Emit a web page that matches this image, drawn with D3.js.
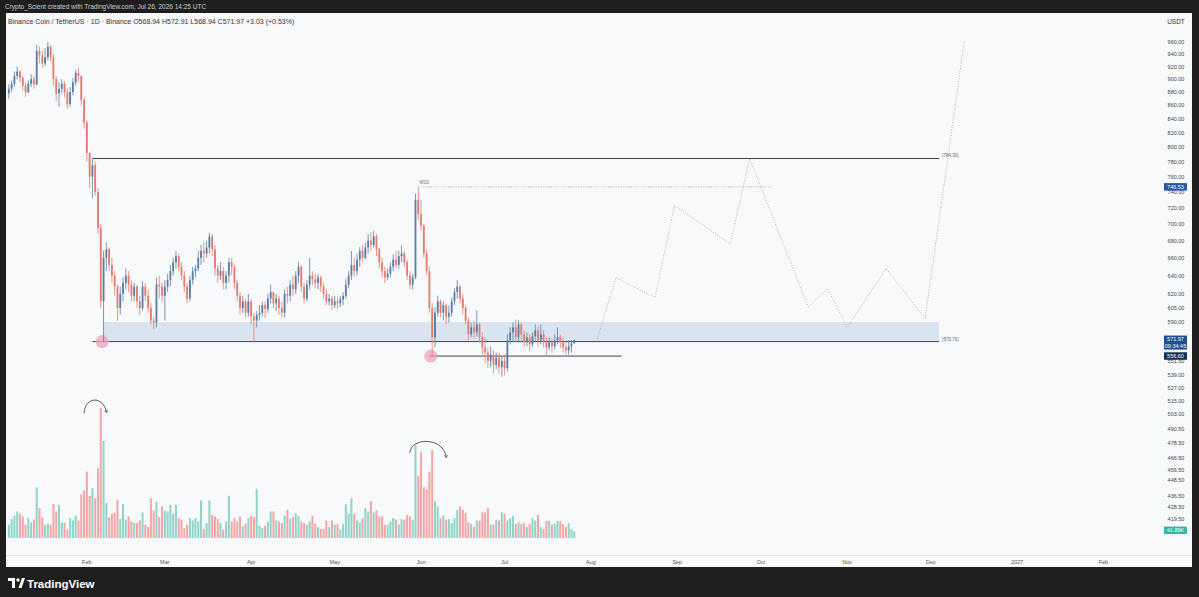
<!DOCTYPE html>
<html>
<head>
<meta charset="utf-8">
<script src="https://cdn.jsdelivr.net/npm/d3@7"></script>
<style>
  body { margin: 0; background: #1e1e1e; }
  svg { display: block; font-family: "Liberation Sans", Arial, sans-serif; }
</style>
</head>
<body>
<svg id="chart" width="1199" height="597"></svg>
<script>
// BNB/USDT daily, Jan 4 2026 -> Jul 26 2026
const firstDay = "2026-01-04";
const firstOpen = 878;
const closes = [885, 893, 905, 912, 902, 890, 880, 893, 900, 892,
  945, 938, 925, 935, 952, 935, 900, 878, 885, 893,
  880, 862, 880, 895, 910, 905, 868, 835, 792, 760,
  775, 740, 695, 612, 660, 670, 652, 640, 628, 605,
  620, 632, 640, 630, 618, 628, 612, 605, 628, 618,
  605, 592, 590, 630, 628, 618, 628, 635, 645, 655,
  662, 650, 640, 628, 615, 635, 645, 648, 660, 668,
  665, 672, 685, 670, 648, 640, 645, 632, 640, 655,
  650, 632, 618, 605, 612, 600, 612, 596, 592, 598,
  600, 608, 604, 615, 622, 610, 615, 605, 600, 620,
  618, 630, 625, 640, 650, 628, 615, 630, 640, 636,
  632, 638, 628, 620, 612, 615, 608, 612, 610, 614,
  618, 630, 640, 652, 645, 658, 668, 660, 672, 680,
  675, 685, 670, 655, 645, 638, 642, 650, 658, 652,
  662, 665, 655, 640, 630, 638, 730, 712, 698, 665,
  645, 605, 575, 600, 612, 600, 608, 596, 600, 612,
  622, 628, 615, 605, 592, 578, 585, 580, 588, 575,
  565, 560, 552, 558, 548, 555, 546, 552, 545, 572,
  580, 585, 575, 588, 578, 570, 575, 568, 576, 582,
  572, 578, 570, 565, 570, 566, 572, 575, 570, 565,
  562, 566, 568.94, 571.97];
const highs = [892, 898, 912, 920, 914, 905, 895, 898, 908, 905,
  955, 953, 945, 950, 960, 955, 940, 905, 895, 900,
  897, 885, 888, 902, 915, 918, 906, 872, 838, 790,
  784.3, 780, 745, 700, 668, 678, 672, 660, 645, 630,
  628, 638, 648, 645, 635, 632, 630, 618, 634, 632,
  625, 610, 596, 638, 640, 632, 635, 642, 652, 660,
  668, 665, 655, 645, 632, 640, 650, 652, 668, 675,
  678, 680, 689, 688, 675, 652, 655, 650, 645, 660,
  660, 652, 635, 622, 618, 615, 620, 615, 600, 602,
  608, 612, 612, 620, 630, 622, 620, 618, 612, 625,
  628, 635, 640, 645, 655, 652, 632, 635, 660, 645,
  642, 642, 640, 632, 625, 620, 618, 618, 616, 618,
  622, 636, 645, 668, 660, 665, 672, 675, 678, 688,
  690, 692, 688, 672, 660, 650, 648, 655, 664, 668,
  668, 675, 668, 658, 645, 642, 738, 746.53, 730, 700,
  670, 650, 610, 606, 618, 614, 612, 610, 608, 616,
  626, 635, 630, 620, 608, 595, 590, 592, 602, 590,
  580, 575, 565, 566, 562, 560, 560, 556, 558, 578,
  585, 590, 593, 592, 590, 582, 580, 578, 580, 588,
  586, 588, 582, 575, 575, 574, 578, 585, 578, 575,
  570, 572, 572, 572.91];
const lows = [870, 880, 888, 900, 895, 882, 873, 878, 888, 885,
  890, 925, 918, 920, 930, 928, 890, 866, 858, 878,
  872, 855, 858, 875, 890, 895, 860, 826, 780, 745,
  732, 735, 688, 605, 570.76, 645, 645, 632, 618, 592,
  598, 612, 625, 622, 612, 612, 605, 598, 602, 612,
  600, 588, 583, 585, 615, 612, 592, 622, 628, 640,
  648, 645, 635, 622, 610, 612, 630, 638, 645, 652,
  655, 660, 665, 662, 640, 632, 635, 625, 625, 632,
  640, 625, 612, 598, 600, 595, 596, 588, 570.76, 585,
  592, 596, 595, 600, 610, 605, 602, 598, 595, 595,
  610, 612, 618, 620, 632, 622, 610, 612, 625, 630,
  626, 625, 622, 615, 608, 608, 603, 605, 604, 606,
  608, 615, 626, 635, 638, 640, 650, 655, 658, 665,
  668, 672, 662, 648, 638, 632, 635, 638, 645, 648,
  648, 655, 650, 635, 625, 625, 636, 705, 692, 660,
  640, 600, 556.6, 565, 596, 595, 592, 588, 590, 596,
  608, 615, 610, 598, 588, 572, 575, 574, 576, 570,
  558, 550, 545, 546, 540, 544, 540, 537, 538, 542,
  568, 572, 570, 570, 572, 565, 566, 562, 565, 570,
  566, 568, 565, 557, 562, 560, 563, 568, 564, 560,
  556, 558, 560, 568.94];
// volume, thousands
const volumes = [84, 120, 141, 168, 153, 137, 84, 126, 99, 116,
  321, 189, 132, 84, 90, 84, 216, 168, 210, 99,
  99, 53, 126, 111, 141, 111, 277, 300, 420, 267,
  315, 252, 441, 825, 615, 221, 132, 153, 158, 242,
  120, 216, 116, 137, 105, 95, 95, 111, 162, 84,
  69, 252, 174, 229, 132, 200, 174, 168, 210, 153,
  210, 126, 116, 63, 84, 126, 111, 126, 105, 237,
  57, 95, 237, 147, 137, 120, 95, 53, 105, 267,
  105, 126, 105, 137, 74, 90, 126, 141, 132, 309,
  78, 63, 78, 105, 168, 168, 111, 105, 95, 141,
  179, 120, 132, 158, 137, 105, 95, 84, 105, 141,
  90, 69, 57, 57, 109, 69, 109, 84, 90, 53,
  90, 214, 153, 252, 153, 111, 99, 126, 189, 168,
  235, 162, 174, 137, 137, 84, 84, 105, 126,
  116, 84, 120, 116, 147, 137, 116, 588, 393, 546,
  321, 309, 420, 557, 231, 200, 126, 141, 116, 120,
  95, 126, 179, 200, 179, 158, 99, 90, 69, 111,
  111, 162, 162, 189, 84, 84, 116, 111, 162, 153,
  111, 126, 141, 90, 99, 90, 95, 69, 90, 126,
  111, 147, 69, 57, 109, 109, 84, 90, 108, 108,
  89, 70, 95, 57, 41.89];

const priceTicks = [960, 940, 920, 900, 880, 860, 840, 820, 800, 780, 760, 740, 720, 700,
  680, 660, 640, 620, 605, 590, 551.5, 539, 527, 515, 503, 490.5, 478.5, 466.5, 456.5,
  448.5, 436.5, 428.5, 419.5];
const monthDates = ["2026-02-01", "2026-03-01", "2026-04-01", "2026-05-01", "2026-06-01", "2026-07-01",
  "2026-08-01", "2026-09-01", "2026-10-01", "2026-11-01", "2026-12-01", "2027-01-01", "2027-02-01"];
const monthLabels = ["Feb", "Mar", "Apr", "May", "Jun", "Jul", "Aug", "Sep", "Oct", "Nov", "Dec", "2027", "Feb"];

// projected path (dotted)
const projDates = ["2026-08-03", "2026-08-10", "2026-08-24", "2026-08-31", "2026-09-20", "2026-09-27",
  "2026-10-18", "2026-10-25", "2026-11-01", "2026-11-15", "2026-11-29", "2026-12-13"];
const projPrices = [570.76, 638, 616, 723, 676, 784.3, 606, 626, 585, 648, 594, 960];

// drawn levels
const boxTop = 784.30, zoneTop = 590.4, zoneBottom = 570.76, lowLine = 556.60, highLevel = 746.53;
const lastPrice = 571.97, lastVolume = 41.89;

const parse = d3.utcParse("%Y-%m-%d");
const svg = d3.select("#chart");
const W = 1199, H = 597;

const x = d3.scaleUtc()
  .domain([Date.UTC(2026, 0, 1), Date.UTC(2027, 1, 1)])
  .range([0.5, 1103.4]);
const y = d3.scaleLog().domain([960, 419.5]).range([42, 519]);
const yVol = d3.scaleLinear().domain([0, 830]).range([538, 407]);

const day0 = parse(firstDay);
const candles = closes.map((c, i) => ({
  date: d3.utcDay.offset(day0, i),
  o: i === 0 ? firstOpen : closes[i - 1],
  h: highs[i], l: lows[i], c: c, v: volumes[i]
}));

// frame
svg.append("rect").attr("width", W).attr("height", H).attr("fill", "#1e1e1e");
svg.append("rect").attr("x", 6).attr("y", 13).attr("width", 1186).attr("height", 554).attr("fill", "#f8f9fb");
svg.append("text").attr("x", 5).attr("y", 9).attr("font-size", 6.5).attr("fill", "#cfcfcf")
  .text("Crypto_Scient created with TradingView.com, Jul 26, 2026 14:25 UTC");
svg.append("text").attr("x", 8).attr("y", 23.5).attr("font-size", 7).attr("fill", "#333")
  .text("Binance Coin / TetherUS · 1D · Binance   O568.94  H572.91  L568.94  C571.97  +3.03 (+0.53%)");

// time axis
svg.append("line").attr("x1", 6).attr("x2", 1192).attr("y1", 555.5).attr("y2", 555.5).attr("stroke", "#e3e5ea");
svg.append("g").selectAll("text").data(monthDates).join("text")
  .attr("x", d => x(parse(d))).attr("y", 564).attr("text-anchor", "middle")
  .attr("font-size", 5.5).attr("fill", "#555")
  .text((d, i) => monthLabels[i]);

// zone + level lines
svg.append("rect")
  .attr("x", x(parse("2026-02-07"))).attr("y", y(zoneTop))
  .attr("width", x(parse("2026-12-04")) - x(parse("2026-02-07")))
  .attr("height", y(zoneBottom) - y(zoneTop))
  .attr("fill", "#d6e1ee").attr("opacity", 0.9);

const levels = [
  { p: boxTop, from: "2026-02-03", to: "2026-12-04", label: "(784.30)" },
  { p: zoneBottom, from: "2026-02-03", to: "2026-12-04", label: "(570.76)" },
  { p: lowLine, from: "2026-06-04", to: "2026-08-12", label: null }
];
levels.forEach(l => {
  svg.append("line")
    .attr("x1", x(parse(l.from))).attr("x2", x(parse(l.to)))
    .attr("y1", y(l.p)).attr("y2", y(l.p))
    .attr("stroke", "#40454d").attr("stroke-width", 1);
  if (l.label) svg.append("text").attr("x", x(parse(l.to)) + 3).attr("y", y(l.p) - 1)
    .attr("font-size", 4.5).attr("fill", "#666").text(l.label);
});

svg.append("line")
  .attr("x1", x(parse("2026-05-31"))).attr("x2", x(parse("2026-10-05")))
  .attr("y1", y(highLevel)).attr("y2", y(highLevel))
  .attr("stroke", "#9aa1ab").attr("stroke-dasharray", "1,1.5").attr("stroke-width", 0.8);
svg.append("text").attr("x", x(parse("2026-05-31")) + 1).attr("y", y(highLevel) - 3)
  .attr("font-size", 4.5).attr("fill", "#777").text("MSS");

// pink circles on the lows
[{ d: "2026-02-06", p: zoneBottom }, { d: "2026-06-04", p: lowLine }].forEach(c => {
  svg.append("circle").attr("cx", x(d3.utcHour.offset(parse(c.d), 12))).attr("cy", y(c.p))
    .attr("r", 6.5).attr("fill", "#f0a0b8").attr("opacity", 0.75);
});

// volume
svg.append("g").selectAll("rect").data(candles).join("rect")
  .attr("x", d => x(d.date) - 1).attr("width", 2)
  .attr("y", d => yVol(d.v)).attr("height", d => yVol(0) - yVol(d.v))
  .attr("fill", d => d.c >= d.o ? "#8fd4c9" : "#f5a5a5");

// candles
const upCol = "#5a7da2", downCol = "#e57b6e";
const cg = svg.append("g");
cg.selectAll("line").data(candles).join("line")
  .attr("x1", d => x(d.date)).attr("x2", d => x(d.date))
  .attr("y1", d => y(d.h)).attr("y2", d => y(d.l))
  .attr("stroke", d => d.c >= d.o ? upCol : downCol).attr("stroke-width", 0.8);
cg.selectAll("rect").data(candles).join("rect")
  .attr("x", d => x(d.date) - 0.9).attr("width", 1.8)
  .attr("y", d => y(Math.max(d.o, d.c)))
  .attr("height", d => Math.max(1, y(Math.min(d.o, d.c)) - y(Math.max(d.o, d.c))))
  .attr("fill", d => d.c >= d.o ? upCol : downCol);

// projection
const proj = projDates.map((d, i) => [x(parse(d)), y(projPrices[i])]);
svg.append("path").attr("d", d3.line()(proj))
  .attr("fill", "none").attr("stroke", "#979da6").attr("stroke-width", 0.8)
  .attr("stroke-dasharray", "1,1.6");

// volume arrows
svg.append("defs").append("marker").attr("id", "ah")
  .attr("viewBox", "0 0 10 10").attr("refX", 5).attr("refY", 5)
  .attr("markerWidth", 5).attr("markerHeight", 5).attr("orient", "auto")
  .append("path").attr("d", "M1,1 L8,5 L1,9").attr("fill", "none").attr("stroke", "#333").attr("stroke-width", 1.5);
const arcs = [
  { from: "2026-01-31", to: "2026-02-08", v0: 790, vTop: 900, v1: 800 },
  { from: "2026-05-28", to: "2026-06-10", v0: 540, vTop: 640, v1: 515 }
];
arcs.forEach(a => {
  const x0 = x(parse(a.from)), x1 = x(parse(a.to));
  const p = d3.path();
  p.moveTo(x0, yVol(a.v0));
  p.bezierCurveTo(x0 + 1, yVol(a.vTop), x1 - 3, yVol(a.vTop), x1, yVol(a.v1));
  svg.append("path").attr("d", p.toString()).attr("fill", "none")
    .attr("stroke", "#333").attr("stroke-width", 0.8).attr("marker-end", "url(#ah)");
});

// price axis
const axX = 1176;
svg.append("text").attr("x", axX).attr("y", 24).attr("text-anchor", "middle")
  .attr("font-size", 6.5).attr("fill", "#333").text("USDT");
svg.append("g").selectAll("text").data(priceTicks).join("text")
  .attr("x", axX).attr("y", d => y(d) + 2).attr("text-anchor", "middle")
  .attr("font-size", 5.5).attr("fill", "#444").text(d => d.toFixed(2));

function tag(cy, lines, fill) {
  const h = lines.length * 6.5 + 1;
  svg.append("rect").attr("x", 1164).attr("y", cy - 3.8).attr("width", 23).attr("height", h).attr("fill", fill);
  lines.forEach((t, i) => svg.append("text").attr("x", 1175.5).attr("y", cy + 2 + i * 6.5)
    .attr("text-anchor", "middle").attr("font-size", 5.5).attr("fill", "#fff").text(t));
}
tag(y(highLevel), ["746.53"], "#2458a6");
tag(y(lastPrice) - 1, [lastPrice.toFixed(2), "09:34:45"], "#1d4f8a");
tag(y(lowLine), ["556.60"], "#14315a");
tag(yVol(lastVolume) - 1, ["41.89K"], "#3bb3a0");

// footer logo
const lg = svg.append("g").attr("fill", "#fff");
lg.append("rect").attr("x", 8).attr("y", 578).attr("width", 7).attr("height", 3);
lg.append("rect").attr("x", 12).attr("y", 578).attr("width", 3).attr("height", 10);
lg.append("circle").attr("cx", 18).attr("cy", 580).attr("r", 1.7);
lg.append("path").attr("d", "M18.5,588 L22,578 L25,578 L21.5,588 Z");
svg.append("text").attr("x", 27).attr("y", 587.5).attr("font-size", 11.5).attr("font-weight", "bold")
  .attr("fill", "#fff").text("TradingView");
</script>
</body>
</html>
